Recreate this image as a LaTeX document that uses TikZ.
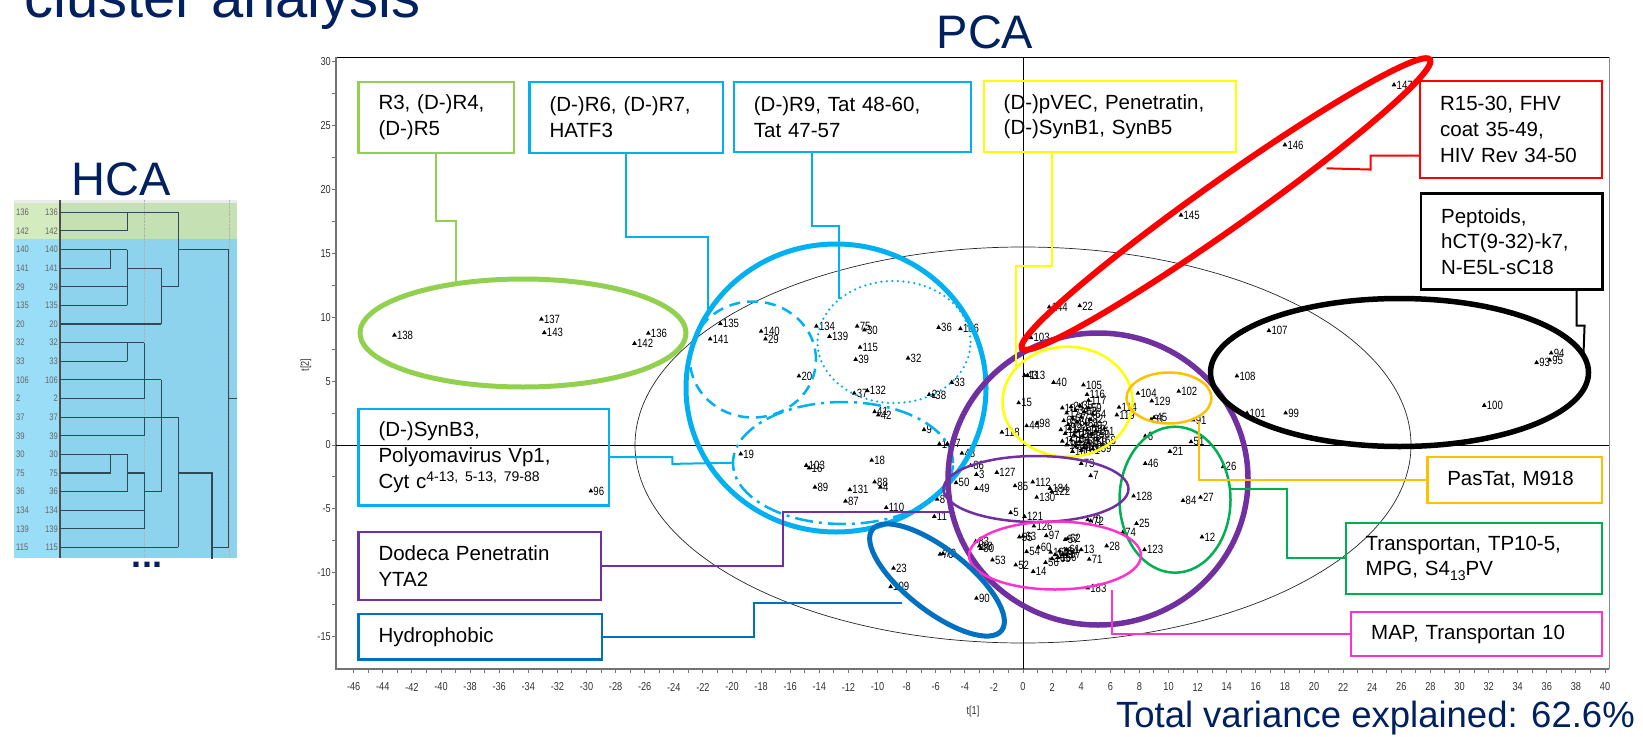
\documentclass[tikz,border=0pt]{standalone}
\usepackage{fontspec}
\setmainfont{Liberation Sans}
\newfontfamily\narrowfont[FakeStretch=0.8]{Liberation Sans}
\usetikzlibrary{shapes.geometric}

\definecolor{navy}{HTML}{002060}
\definecolor{rgreen}{HTML}{92D050}
\definecolor{rcyan}{HTML}{00B0F0}
\definecolor{ryellow}{HTML}{FFFF00}
\definecolor{rred}{HTML}{FF0000}
\definecolor{rorange}{HTML}{FFC000}
\definecolor{tgreen}{HTML}{00B050}
\definecolor{rpurple}{HTML}{7030A0}
\definecolor{rpink}{HTML}{FF33CC}
\definecolor{rblue}{HTML}{0070C0}
\definecolor{hgreen}{HTML}{C5E0B3}
\definecolor{hgreenl}{HTML}{D3EBBF}
\definecolor{hblue}{HTML}{8DD3EE}
\definecolor{hbluel}{HTML}{9ADDF6}
\definecolor{hline}{HTML}{2E4A57}

\begin{document}
\begin{tikzpicture}[
    x=1pt, y=-1pt,
    title/.style={text=navy, inner sep=0pt},
    tag/.style={draw, line width=2.4pt, anchor=north west, align=left, inner xsep=20pt, inner ysep=0pt, font=\fontsize{20.5}{25.7}\selectfont},
    conn/.style={line width=2pt},
    ring/.style={line width=5pt},
    thinring/.style={line width=2.5pt},
    obs/.style={regular polygon, regular polygon sides=3, fill=black, inner sep=0pt, minimum size=5.5pt},
    num/.style={font=\narrowfont\fontsize{12}{12}\selectfont, inner sep=0.6pt},
    tick/.style={font=\narrowfont\fontsize{11.5}{11.5}\selectfont, text=black!80, inner sep=1pt},
    leaf/.style={font=\narrowfont\fontsize{9.5}{9.5}\selectfont, text=black!60, inner sep=0pt},
    tree/.style={draw=hline, line width=1.1pt}
  ]
  \useasboundingbox (0,0) rectangle (1643,736);

  % titles
  \node[title, anchor=base west, font=\fontsize{58}{58}\selectfont] (clu) at (24,17) {cluster analysis};
  \node[title, anchor=base west, font=\fontsize{47}{47}\selectfont] (hca) at (71,195) {HCA};
  \node[title, anchor=base, font=\fontsize{47}{47}\selectfont] (pca) at (985,48) {PCA};
  \node[title, anchor=base east, font=\fontsize{36.5}{36.5}\selectfont] (tve) at (1635,727) {Total variance explained: 62.6\%};
  \node[title, anchor=base, font=\fontsize{36}{36}\selectfont\bfseries] (more) at (147,567) {...};

  % HCA dendrogram
  \fill[hgreenl] (14,203) rectangle (60,239.3);
  \fill[hgreen] (60,203) rectangle (236.7,239.3);
  \fill[hbluel] (14,239.3) rectangle (60,558);
  \fill[hblue] (60,239.3) rectangle (236.7,558);
  \fill[black!8] (14,200) rectangle (236.7,203);
  \draw[black!30, densely dotted] (144.3,200) -- (144.3,558) (228.7,200) -- (228.7,558);
  \draw[black!70, line width=1.2pt] (60,200) -- (60,558);
  \begin{scope}[shift={(0,212.3)}, y=-18.62pt]
    \foreach \lab/\len [count=\i from 0] in {136/178.3, 142/127.3, 140/127.3, 141/110.7, 29/127.3,
        135/127.3, 20/161.3, 32/144.3, 33/127.3, 106/161.3, 2/144.3, 37/178.3, 39/144.3,
        30/127.3, 75/110.7, 36/127.3, 134/144.3, 139/144.3, 115/178.3} {
      \node[leaf, anchor=west] at (16,\i) {\lab};
      \node[leaf, anchor=east] at (58,\i) {\lab};
      \draw[tree] (60,\i) -- (\len,\i);
    }
    \draw[tree] (127.3,0) -- (127.3,1);
    \draw[tree] (110.7,2) -- (110.7,3);
    \draw[tree] (127.3,2) -- (127.3,5);
    \draw[tree] (127.3,3) -- (161.3,3) -- (161.3,6);
    \draw[tree] (178.3,0) -- (178.3,4) (161.3,4) -- (178.3,4);
    \draw[tree] (178.3,2) -- (228.7,2);
    \draw[tree] (127.3,7) -- (127.3,8);
    \draw[tree] (144.3,7) -- (144.3,10);
    \draw[tree] (161.3,9) -- (161.3,15);
    \draw[tree] (144.3,11) -- (144.3,12);
    \draw[tree] (110.7,13) -- (110.7,14);
    \draw[tree] (127.3,13) -- (127.3,15);
    \draw[tree] (127.3,14) -- (144.3,14) -- (144.3,17);
    \draw[tree] (144.3,15) -- (161.3,15);
    \draw[tree] (178.3,11) -- (178.3,18);
    \draw[tree] (178.3,14) -- (212,14) -- (212,18.6);
    \draw[tree] (212,18) -- (228.7,18);
    \draw[tree] (228.7,2) -- (228.7,18);
    \draw[tree] (228.7,10) -- (236.7,10);
  \end{scope}

  % PCA frame
  \draw[black, line width=0.8pt] (336,57) -- (1609,57);
  \draw[black!45, line width=0.8pt] (1609,57) -- (1609,669);
  \draw[black!55, line width=1.8pt] (336,57) -- (336,669) -- (1609,669);
  \draw[black, line width=0.6pt] (336,445) -- (1609,445) (1023,57) -- (1023,669);
  \draw[black!85, line width=0.7pt] (1023,445) ellipse [x radius=388pt, y radius=198pt];
  \node[tick, rotate=90] (ty) at (306,365) {t[2]};
  \node[tick] (tx) at (973,712) {t[1]};

  \begin{scope}[shift={(1023,445)}, x=14.55pt, y=12.77pt]
    \foreach \v in {-15,-12.5,...,30} \draw[black!55, line width=1pt] (-47.22,\v) -- ++(-4pt,0);
    \foreach \v in {-15,-10,...,30} \node[tick, anchor=east] at ([xshift=-4pt]-47.22,\v) {\v};
    \foreach \u in {-46,...,40} \draw[black!55, line width=1pt] (\u,-17.54) -- ++(0,-4pt);
    \foreach \u in {-46,-44,...,40} \node[tick] at ([yshift=-18pt]\u,-17.54) {\u};

    % scores
    \foreach \u/\v/\n [count=\i] in {
        -43.2/8.6/138, -33.1/9.85/137, -32.9/8.8/143, -25.75/8.75/136, -26.7/7.95/142, -29.7/-3.6/96,
        -20.8/9.5/135, -21.5/8.3/141, -18.0/8.9/140, -17.7/8.3/29, -15.4/5.4/20, -14.2/9.3/134,
        -13.3/8.5/139, -11.4/9.3/75, -10.9/9.0/30, -11.2/7.65/115, -11.5/6.7/39, -7.9/6.8/32,
        -5.8/9.2/36, -4.3/9.1/106, -4.9/4.9/33, -11.6/4.05/37, -10.7/4.25/132, -6.45/3.95/2,
        -6.2/3.9/38, -10.2/2.6/41, -9.95/2.35/42, -6.8/1.2/9, -5.75/0.08/1, -5.2/0.1/47,
        -4.2/-0.65/48, -19.4/-0.7/19, -14.9/-1.6/103, -14.7/-1.8/16, -10.4/-1.2/18, -14.3/-3.3/89,
        -11.9/-3.5/131, -12.2/-4.4/87, -10.2/-2.9/88, -9.8/-3.3/4, -9.4/-4.9/110, -5.9/-4.25/8,
        -6.1/-5.6/11, -3.6/-1.6/86, -3.2/-2.3/3, -1.8/-2.15/127, -4.6/-2.95/50, -3.2/-3.4/49,
        -0.55/-3.2/85, 0.67/-2.9/112, 1.85/-3.4/184, 1.97/-3.65/122, 0.94/-4.1/130, 4.65/-2.4/7,
        4.0/-1.45/73, -0.85/-5.3/5, 0.1/-5.6/121, 0.75/-6.35/126, 4.45/-5.85/70, 4.65/-5.95/72,
        -0.25/-7.2/55, 0.0/-7.15/63, 1.6/-7.1/97, 2.9/-7.4/57, 3.05/-7.35/62, 1.05/-8.0/60,
        0.25/-8.35/54, 3.0/-8.2/61, 4.0/-8.2/13, 4.55/-8.95/71, 5.75/-7.9/28, 1.55/-9.2/56,
        -0.5/-9.4/52, 0.7/-9.9/14, -2.1/-9.0/53, 4.45/-11.2/183, 1.9/-8.4/162, 2.2/-8.6/163,
        2.5/-8.3/164, 2.0/-8.9/165, 2.4/-8.8/166, 2.7/-8.6/167, -3.25/-7.55/83, -3.0/-7.9/68,
        -2.9/-8.1/80, -5.5/-8.5/79, -5.7/-8.55/76, -8.9/-9.65/23, -9.1/-11.1/109, -3.2/-12.0/90,
        1.8/10.8/144, 3.9/10.9/22, 0.55/8.4/103, 10.86/18.0/145, 18.0/23.5/146, 25.5/28.2/147,
        16.9/8.95/107, 14.7/5.4/108, 15.4/2.5/101, 18.05/2.5/99, 31.7/3.1/100, 35.3/6.45/93,
        36.3/7.2/94, 36.2/6.65/95, 0.1/5.45/43, 0.3/5.45/113, 2.1/4.9/40, 4.15/4.7/105,
        4.4/3.95/116, 4.5/3.5/117, -0.3/3.3/15, 0.25/1.5/44, 0.95/1.7/98, -1.45/1.0/118,
        6.6/2.95/114, 6.45/2.35/119, 7.9/4.05/104, 8.85/3.45/129, 10.7/4.2/102, 9.0/2.15/45,
        8.8/2.0/31, 11.7/1.95/91, 8.4/0.7/6, 11.55/0.25/51, 10.1/-0.5/21, 8.4/-1.45/46,
        13.75/-1.7/26, 7.6/-4.0/128, 11.0/-4.35/84, 12.2/-4.1/27, 7.8/-6.15/25, 6.85/-6.85/74,
        8.35/-8.2/123, 12.3/-7.2/12,
        2.7/2.9/10, 3.0/2.5/17, 3.3/3.0/24, 3.6/2.7/34, 3.9/3.1/35, 4.2/2.6/58, 4.5/2.9/59,
        4.8/2.4/64, 2.8/1.9/65, 3.1/1.6/66, 3.4/2.1/67, 3.7/1.8/69, 4.0/2.2/77, 4.3/1.7/81,
        4.6/2.0/82, 4.9/1.5/92, 2.6/1.2/111, 2.9/0.9/120, 3.2/1.3/124, 3.5/0.8/125, 3.8/1.1/133,
        4.1/0.7/148, 4.4/1.2/149, 4.7/0.8/150, 5.0/1.1/151, 2.7/0.3/152, 3.0/0.0/153, 3.3/0.4/154,
        3.6/-0.1/155, 3.9/0.3/156, 4.2/-0.2/157, 4.5/0.2/158, 4.8/-0.3/159, 3.4/-0.5/160,
        4.0/-0.45/161, 5.1/0.4/168}
      \node[obs, label={[num]right:\n}] (p\i) at (\u,\v) {};
  \end{scope}

  % groups
  \draw[ring, rgreen] (523,333) ellipse [x radius=163pt, y radius=54pt];
  \draw[ring, rcyan] (836,388) ellipse [x radius=150pt, y radius=144pt];
  \draw[thinring, rcyan, dash pattern=on 11pt off 7pt] (753,359.5) ellipse [x radius=63pt, y radius=58pt];
  \draw[thinring, rcyan, line cap=round, dash pattern=on 0pt off 5.5pt] (894,342) ellipse [x radius=76.5pt, y radius=61pt];
  \draw[thinring, rcyan, dash pattern=on 18pt off 6pt on 3pt off 6pt] (843,463) ellipse [x radius=110pt, y radius=61pt];
  \draw[ring, rpurple, line width=5.5pt] (1098,479) ellipse [x radius=150pt, y radius=146pt];
  \draw[thinring, ryellow] (1067.5,401.7) ellipse [x radius=65pt, y radius=55pt];
  \draw[thinring, rorange] (1169,398) ellipse [x radius=42.5pt, y radius=25.5pt];
  \draw[thinring, tgreen] (1175,499.7) ellipse [x radius=55.5pt, y radius=73pt];
  \draw[thinring, rpurple] (1036,489) ellipse [x radius=92.5pt, y radius=33pt];
  \draw[thinring, rpink] (1055,555.5) ellipse [x radius=86pt, y radius=34pt];
  \draw[ring, rblue, rotate around={-38:(937,580)}] (937,580) ellipse [x radius=82pt, y radius=31pt];
  \draw[ring, rred, line width=6pt, rotate around={35.3:(1226,204)}] (1226,204) ellipse [x radius=250pt, y radius=24pt];
  \draw[ring, black, line width=5.5pt] (1399.5,372.5) ellipse [x radius=189pt, y radius=74pt];

  % labels of the groups
  \node[tag, draw=rgreen, text width=115.4pt, minimum height=71pt] (r3box) at (357.3,80.7) {R3, (D-)R4,\\(D-)R5};
  \node[tag, draw=rcyan, text width=153.4pt, minimum height=71pt] (r6box) at (528.3,80.7) {(D-)R6, (D-)R7,\\HATF3};
  \node[tag, draw=rcyan, text width=197.3pt, minimum height=70.3pt] (tatbox) at (732.7,80.7) {(D-)R9, Tat 48-60,\\Tat 47-57};
  \node[tag, draw=ryellow, text width=212.5pt, minimum height=71pt] (pvecbox) at (982.5,80) {(D-)pVEC, Penetratin,\\(D-)SynB1, SynB5};
  \node[tag, draw=rred, text width=141.6pt, minimum height=96.7pt] (r15box) at (1418.9,80) {R15-30, FHV\\coat 35-49,\\HIV Rev 34-50};
  \node[tag, draw=black, text width=141.5pt, minimum height=96pt] (peptbox) at (1419.9,192.3) {Peptoids,\\hCT(9-32)-k7,\\N-E5L-sC18};
  \node[tag, draw=rorange, text width=134.6pt, minimum height=45.7pt] (pasbox) at (1426.1,456) {PasTat, M918};
  \node[tag, draw=tgreen, text width=216.2pt, minimum height=71pt] (tpbox) at (1344.5,521.7) {Transportan, TP10-5,\\MPG, S4\raisebox{-5pt}{\fontsize{14}{14}\selectfont 13}PV};
  \node[tag, draw=rpink, text width=210.7pt, minimum height=44pt] (mapbox) at (1350,611) {MAP, Transportan 10};
  \node[tag, draw=rcyan, text width=210.4pt, minimum height=96.6pt] (synbox) at (357.3,407.7) {(D-)SynB3,\\Polyomavirus Vp1,\\Cyt c\raisebox{7pt}{\fontsize{14}{14}\selectfont 4-13, 5-13, 79-88}};
  \node[tag, draw=rpurple, text width=202.7pt, minimum height=68pt] (dodbox) at (357.3,530.7) {Dodeca Penetratin\\YTA2};
  \node[tag, draw=rblue, text width=203.7pt, minimum height=45.6pt] (hydbox) at (357.3,612.7) {Hydrophobic};

  % connectors
  \coordinate (r3end) at (455.7,282);
  \coordinate (r6end) at (708,310);
  \coordinate (tatend) at (839.3,299);
  \coordinate (pvecend) at (1016,370);
  \coordinate (r15end) at (1326.5,168.3);
  \coordinate (peptend) at (1583.4,356);
  \coordinate (pasend) at (1199,421);
  \coordinate (tpend) at (1230,489.3);
  \coordinate (mapend) at (1112,590);
  \coordinate (synend) at (733,462.7);
  \coordinate (dodend) at (950,511.7);
  \coordinate (hydend) at (902,603.3);

  \draw[conn, rgreen] (r3box.south) -- ++(0,66.6) -| (r3end);
  \draw[conn, rcyan] (r6box.south) -- ++(0,82.6) -| (r6end);
  \draw[conn, rcyan] ([xshift=-40.4pt]tatbox.south) -- ++(0,73) -| (tatend);
  \draw[conn, ryellow] ([xshift=-58pt]pvecbox.south) -- ++(0,112.3) -| (pvecend);
  \draw[conn, rred] ([yshift=-26pt]r15box.west) -- ++(-48.3,0) -- ++(0,14) -- (r15end);
  \draw[conn, black] ([xshift=64.7pt]peptbox.south) -- ++(0,35) -- ++(8,0) -- (peptend);
  \draw[conn, rorange] (pasbox.west) -| (pasend);
  \draw[conn, tgreen] (tpbox.west) -- ++(-57.9,0) |- (tpend);
  \draw[conn, rpink] (mapbox.west) -| (mapend);
  \draw[conn, rcyan] (synbox.east) -- ++(62.3,0) -- ++(0,6.7) -- (synend);
  \draw[conn, rpurple] (dodbox.east) -- ++(180.7,0) |- (dodend);
  \draw[conn, rblue] (hydbox.east) -- ++(150.3,0) |- (hydend);
\end{tikzpicture}
\end{document}
